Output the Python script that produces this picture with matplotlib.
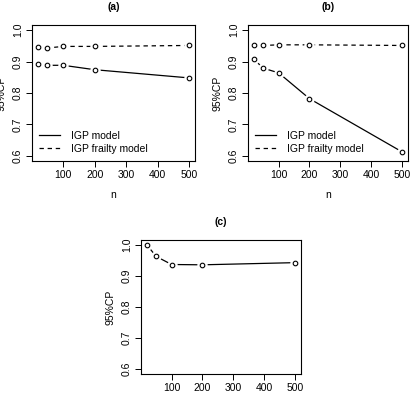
import matplotlib
matplotlib.use("Agg")
import matplotlib.pyplot as plt

plt.rcParams['font.family'] = ['Liberation Sans', 'DejaVu Sans']

n_vals = [20, 50, 100, 200, 500]
a_igp = [0.892, 0.888, 0.888, 0.874, 0.848]
a_frailty = [0.947, 0.943, 0.948, 0.948, 0.951]
b_igp = [0.907, 0.879, 0.864, 0.782, 0.613]
b_frailty = [0.953, 0.951, 0.953, 0.953, 0.951]
c_vals = [1.000, 0.963, 0.937, 0.936, 0.943]

xticks = [100, 200, 300, 400, 500]
yticks = [0.6, 0.7, 0.8, 0.9, 1.0]
titles = ['(a)', '(b)', '(c)']
legend_labels = ['IGP model', 'IGP frailty model']

fig = plt.figure(figsize=(4.15, 4.01), dpi=100)

axes_pos = [
    [32/415, 1-161/401, 163/415, 136/401],
    [248/415, 1-161/401, 160/415, 136/401],
    [141/415, 1-374/401, 160/415, 134/401],
]

FS = 7.5


def series(ax, y, ls, label=None):
    ax.plot(n_vals, y, color='black', lw=0.9, ls=ls, dashes=(3.5, 3) if ls == '--' else (None, None), label=label, zorder=1)
    ax.plot(n_vals, y, ls='none', marker='o', ms=6.5, mfc='white', mec='white', zorder=2)
    ax.plot(n_vals, y, ls='none', marker='o', ms=3.3, mfc='white', mec='black', mew=0.8, zorder=3)


def style(ax, title, xlabel=True):
    ax.set_xlim(0.8, 519.2)
    ax.set_ylim(0.584, 1.016)
    ax.set_xticks(xticks)
    ax.set_yticks(yticks)
    ax.set_yticklabels([f'{v:.1f}' for v in yticks], rotation=90, va='center')
    ax.tick_params(direction='out', length=4, width=0.7, labelsize=FS, pad=2.5)
    for s in ax.spines.values():
        s.set_linewidth(0.8)
    ax.set_ylabel('95%CP', fontsize=FS, labelpad=5)
    if xlabel:
        ax.set_xlabel('n', fontsize=FS, labelpad=7)
    ax.set_title(title, fontsize=FS, fontweight='bold', pad=11)


def legend(ax):
    ax.legend(loc='lower left', frameon=False, fontsize=FS, handlelength=2.0, handletextpad=1.0,
              labelspacing=0.3, borderaxespad=0.4, borderpad=0.3, bbox_to_anchor=(0.0, 0.0))


ax = fig.add_axes(axes_pos[0])
series(ax, a_igp, '-', legend_labels[0])
series(ax, a_frailty, '--', legend_labels[1])
style(ax, titles[0])
legend(ax)

ax = fig.add_axes(axes_pos[1])
series(ax, b_igp, '-', legend_labels[0])
series(ax, b_frailty, '--', legend_labels[1])
style(ax, titles[1])
legend(ax)

ax = fig.add_axes(axes_pos[2])
series(ax, c_vals, '-')
style(ax, titles[2], xlabel=False)

fig.savefig('out.png', dpi=100)
